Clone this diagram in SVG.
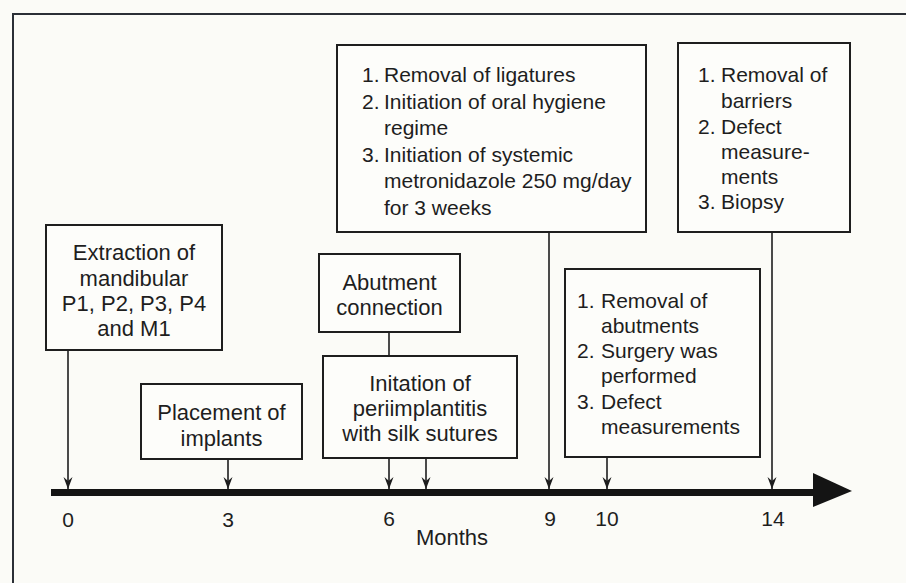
<svg xmlns="http://www.w3.org/2000/svg" width="906" height="583" viewBox="0 0 906 583">
<defs>
<style>
.bg{fill:#fbfbf7}
.box{fill:#fdfdfa;stroke:#1e1e1e;stroke-width:2}
.frame{fill:none;stroke:#2b2f36;stroke-width:2}
.t{font-family:"Liberation Sans",Arial,sans-serif;font-size:21px;fill:#1e1e1e}
.c{font-family:"Liberation Sans",Arial,sans-serif;font-size:22px;fill:#1e1e1e;text-anchor:middle}
.n{font-family:"Liberation Sans",Arial,sans-serif;font-size:21px;fill:#1e1e1e;text-anchor:middle}
.ln{stroke:#1e1e1e;stroke-width:1.6;fill:none}
.arr{stroke:#1e1e1e;stroke-width:1.6;fill:none;marker-end:url(#ah)}
</style>
<marker id="ah" markerUnits="userSpaceOnUse" markerWidth="12" markerHeight="16" refX="0" refY="0" viewBox="-6 -14 12 16" orient="auto-start-reverse" overflow="visible">
<path d="M0,0 L-4.5,-12 L0,-8 L4.5,-12 Z" fill="#1e1e1e" transform="rotate(-90)"/>
</marker>
</defs>
<rect class="bg" x="0" y="0" width="906" height="583"/>
<path class="frame" d="M13,583 V14 H906"/>

<g id="axis">
<rect x="51" y="489" width="763" height="7" fill="#141414"/>
<polygon points="813,473 852,491 813,507" fill="#141414"/>
<text class="n" x="68" y="527">0</text>
<text class="n" x="228" y="527">3</text>
<text class="n" x="389" y="526">6</text>
<text class="n" x="550" y="526">9</text>
<text class="n" x="607" y="526">10</text>
<text class="n" x="773" y="526">14</text>
<text class="c" x="452" y="545">Months</text>
</g>

<g id="connectors">
<path class="arr" d="M68,350 V489"/>
<path class="arr" d="M228,459 V489"/>
<path class="ln" d="M389,332 V356"/>
<path class="arr" d="M389,458 V489"/>
<path class="arr" d="M426,458 V489"/>
<path class="arr" d="M549,232 V489"/>
<path class="arr" d="M607,457 V489"/>
<path class="arr" d="M772,232 V489"/>
</g>

<g id="n-extraction">
<rect class="box" x="46" y="225" width="176" height="125"/>
<text class="c" x="134" y="260">Extraction of</text>
<text class="c" x="134" y="286">mandibular</text>
<text class="c" x="134" y="311">P1, P2, P3, P4</text>
<text class="c" x="134" y="336">and M1</text>
</g>

<g id="n-placement">
<rect class="box" x="141" y="384" width="161" height="75"/>
<text class="c" x="221.5" y="420">Placement of</text>
<text class="c" x="221.5" y="446">implants</text>
</g>

<g id="n-abutment">
<rect class="box" x="319" y="254" width="141" height="78"/>
<text class="c" x="389.5" y="290">Abutment</text>
<text class="c" x="389.5" y="315">connection</text>
</g>

<g id="n-initation">
<rect class="box" x="323" y="356" width="194" height="102"/>
<text class="c" x="420" y="391">Initation of</text>
<text class="c" x="420" y="416">periimplantitis</text>
<text class="c" x="420" y="441">with silk sutures</text>
</g>

<g id="n-month9">
<rect class="box" x="337" y="45" width="309" height="187"/>
<text class="t" x="362" y="82">1.</text>
<text class="t" x="384" y="82">Removal of ligatures</text>
<text class="t" x="362" y="108.5">2.</text>
<text class="t" x="384" y="108.5">Initiation of oral hygiene</text>
<text class="t" x="384" y="135">regime</text>
<text class="t" x="362" y="161.5">3.</text>
<text class="t" x="384" y="161.5">Initiation of systemic</text>
<text class="t" x="384" y="188">metronidazole 250 mg/day</text>
<text class="t" x="384" y="214.5">for 3 weeks</text>
</g>

<g id="n-month10">
<rect class="box" x="565" y="269" width="195" height="188"/>
<text class="t" x="577" y="308">1.</text>
<text class="t" x="601" y="308">Removal of</text>
<text class="t" x="601" y="333">abutments</text>
<text class="t" x="577" y="358">2.</text>
<text class="t" x="601" y="358">Surgery was</text>
<text class="t" x="601" y="383">performed</text>
<text class="t" x="577" y="409">3.</text>
<text class="t" x="601" y="409">Defect</text>
<text class="t" x="601" y="434">measurements</text>
</g>

<g id="n-month14">
<rect class="box" x="678" y="43" width="172" height="189"/>
<text class="t" x="698" y="82">1.</text>
<text class="t" x="721" y="82">Removal of</text>
<text class="t" x="721" y="108">barriers</text>
<text class="t" x="698" y="134">2.</text>
<text class="t" x="721" y="134">Defect</text>
<text class="t" x="721" y="159">measure-</text>
<text class="t" x="721" y="184">ments</text>
<text class="t" x="698" y="209">3.</text>
<text class="t" x="721" y="209">Biopsy</text>
</g>
</svg>
